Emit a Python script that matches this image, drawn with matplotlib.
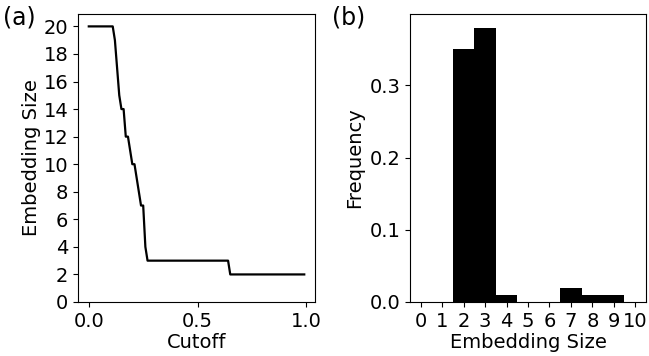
import matplotlib
matplotlib.use("Agg")
from matplotlib import pyplot as plt

# embedding size kept at each cutoff
cutoff = [0.0, 0.11, 0.12, 0.13, 0.14, 0.15, 0.16, 0.17, 0.18, 0.19, 0.20,
          0.21, 0.22, 0.23, 0.24, 0.25, 0.26, 0.27, 0.64, 0.65, 0.99]
emb_size = [20, 20, 19, 17, 15, 14, 14, 12, 12, 11, 10,
            10, 9, 8, 7, 7, 4, 3, 3, 2, 2]

# distribution of embedding sizes
sizes = [0, 1, 2, 3, 4, 5, 6, 7, 8, 9, 10]
freq = [0.0, 0.0, 0.35, 0.38, 0.01, 0.0, 0.0, 0.02, 0.01, 0.01, 0.0]

plt.rcParams['font.size'] = 14

fig = plt.figure(figsize=(6.49, 3.56), dpi=100)
ax1 = fig.add_axes([0.1202, 0.1517, 0.3652, 0.809])
ax2 = fig.add_axes([0.6317, 0.1517, 0.3636, 0.809])

ax1.plot(cutoff, emb_size, c='k', lw=1.6)
ax1.set_ylim(bottom=0)
ax1.set_yticks(range(0, 21, 2))
ax1.set_xlabel('Cutoff', labelpad=2)
ax1.set_ylabel('Embedding Size', labelpad=2)

ax2.bar(sizes, freq, width=1.0, color='k')
ax2.set_xlim(-0.5, 10.5)
ax2.set_xticks(sizes)
ax2.set_yticks([0.0, 0.1, 0.2, 0.3])
ax2.set_xlabel('Embedding Size', labelpad=2)
ax2.set_ylabel('Frequency', labelpad=4)

fig.text(0.004, 0.985, '(a)', fontsize=17, va='top')
fig.text(0.512, 0.985, '(b)', fontsize=17, va='top')

plt.savefig("out.png")
